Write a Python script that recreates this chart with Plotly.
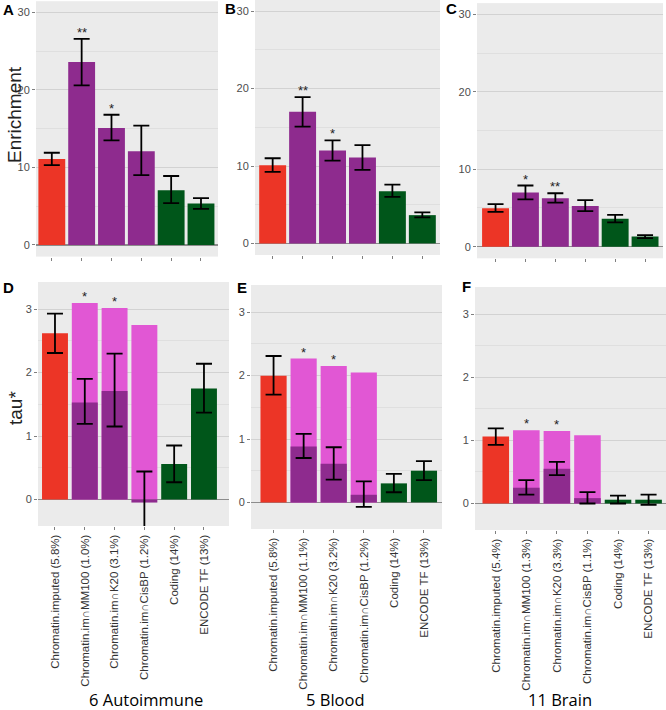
import plotly.graph_objects as go

# ---------------- data ----------------
cats_auto = ["Chromatin.imputed (5.8%)", "Chromatin.im∩MM100 (1.0%)", "Chromatin.im∩K20 (3.1%)",
             "Chromatin.im∩CisBP (1.2%)", "Coding (14%)", "ENCODE TF (13%)"]
cats_blood = ["Chromatin.imputed (5.8%)", "Chromatin.im∩MM100 (1.1%)", "Chromatin.im∩K20 (3.2%)",
              "Chromatin.im∩CisBP (1.2%)", "Coding (14%)", "ENCODE TF (13%)"]
cats_brain = ["Chromatin.imputed (5.4%)", "Chromatin.im∩MM100 (1.3%)", "Chromatin.im∩K20 (3.3%)",
              "Chromatin.im∩CisBP (1.1%)", "Coding (14%)", "ENCODE TF (13%)"]

group_titles = ["6 Autoimmune", "5 Blood", "11 Brain"]

# Enrichment (top row)
enr_auto = [11.1, 23.6, 15.1, 12.1, 7.05, 5.35]
enr_auto_hi = [11.9, 26.6, 16.8, 15.4, 8.9, 6.05]
enr_auto_lo = [10.3, 20.6, 13.5, 9.0, 5.4, 4.65]
enr_auto_stars = ["", "**", "*", "", "", ""]

enr_blood = [10.1, 17.0, 12.0, 11.1, 6.75, 3.65]
enr_blood_hi = [11.0, 18.9, 13.3, 12.7, 7.6, 4.0]
enr_blood_lo = [9.25, 15.1, 10.7, 9.5, 6.0, 3.35]
enr_blood_stars = ["", "**", "*", "", "", ""]

enr_brain = [4.95, 7.0, 6.25, 5.25, 3.6, 1.3]
enr_brain_hi = [5.5, 7.9, 6.9, 6.0, 4.1, 1.5]
enr_brain_lo = [4.5, 6.1, 5.7, 4.6, 3.15, 1.1]
enr_brain_stars = ["", "*", "**", "", "", ""]

# tau* (bottom row)
tau_auto = [2.62, 1.53, 1.71, -0.05, 0.56, 1.75]
tau_auto_hi = [2.93, 1.90, 2.30, 0.44, 0.85, 2.14]
tau_auto_lo = [2.31, 1.19, 1.15, -0.55, 0.27, 1.37]
tau_auto_outer = [3.10, 3.02, 2.75]

tau_blood = [2.0, 0.88, 0.61, 0.12, 0.30, 0.50]
tau_blood_hi = [2.31, 1.08, 0.87, 0.33, 0.45, 0.65]
tau_blood_lo = [1.70, 0.70, 0.36, -0.07, 0.16, 0.35]
tau_blood_outer = [2.27, 2.15, 2.05]

tau_brain = [1.06, 0.25, 0.55, 0.085, 0.06, 0.06]
tau_brain_hi = [1.19, 0.37, 0.66, 0.18, 0.125, 0.14]
tau_brain_lo = [0.93, 0.14, 0.45, 0.0, 0.0, -0.02]
tau_brain_outer = [1.16, 1.15, 1.08]

tau_stars = ["", "*", "*", "", "", ""]

# ---------------- style ----------------
RED = "#EC3526"
PURPLE = "#8E2B8E"
GREEN = "#00561A"
PINK = "#E157D4"
bar_colors = [RED, PURPLE, PURPLE, PURPLE, GREEN, GREEN]
BG = "#EBEBEB"
GRID = "#D2D2D2"
MINOR = "#DFDFDF"
TICKC = "#4D4D4D"
FONT = "Liberation Sans, Arial, sans-serif"

W, H = 666, 710
def fx(p):
    return p / W
def fy(p):
    return 1 - p / H

# panel geometry in pixels: (x0, x1, ytop, ybottom, xrange)
top_panels = [
    (36, 218, 1.2, 256.6, [-0.53, 5.57]),
    (255, 440, 0.0, 255.0, [-0.59, 5.59]),
    (477, 663, 3.1, 258.3, [-0.62, 5.6]),
]
bot_panels = [
    (38, 229, 282, 526, [-0.57, 5.84]),
    (251, 442, 285, 529, [-0.75, 5.6]),
    (475, 666, 287, 530, [-0.68, 5.57]),
]
top_yrange = [-1.5, 31.45]
bot_yrange = [-0.42, 3.43]

fig = go.Figure()
annotations = []

top_data = [
    (cats_auto, enr_auto, enr_auto_hi, enr_auto_lo, enr_auto_stars),
    (cats_blood, enr_blood, enr_blood_hi, enr_blood_lo, enr_blood_stars),
    (cats_brain, enr_brain, enr_brain_hi, enr_brain_lo, enr_brain_stars),
]
bot_data = [
    (cats_auto, tau_auto, tau_auto_hi, tau_auto_lo, tau_auto_outer),
    (cats_blood, tau_blood, tau_blood_hi, tau_blood_lo, tau_blood_outer),
    (cats_brain, tau_brain, tau_brain_hi, tau_brain_lo, tau_brain_outer),
]

layout_axes = {}

def axis_names(i):
    xn = "x" if i == 1 else f"x{i}"
    yn = "y" if i == 1 else f"y{i}"
    xk = "xaxis" if i == 1 else f"xaxis{i}"
    yk = "yaxis" if i == 1 else f"yaxis{i}"
    return xn, yn, xk, yk

idx = 0
# top row
for p, (geom, (cats, vals, hi, lo, stars)) in enumerate(zip(top_panels, top_data)):
    idx += 1
    xn, yn, xk, yk = axis_names(idx)
    x0, x1, yt, yb, xr = geom
    fig.add_trace(go.Bar(
        x=cats, y=vals, width=0.9, marker=dict(color=bar_colors, line=dict(width=0)),
        error_y=dict(type="data", symmetric=False,
                     array=[h - v for h, v in zip(hi, vals)],
                     arrayminus=[v - l for v, l in zip(vals, lo)],
                     color="black", thickness=1.8, width=8),
        xaxis=xn, yaxis=yn, showlegend=False, hoverinfo="skip"))
    for c, h, s in zip(cats, hi, stars):
        if s:
            annotations.append(dict(x=c, y=h, xref=xn, yref=yn, text=s, showarrow=False,
                                    yanchor="bottom", yshift=-3,
                                    font=dict(family=FONT, size=13, color="#222")))
    layout_axes[xk] = dict(domain=[fx(x0), fx(x1)], anchor=yn, type="category",
                           categoryorder="array", categoryarray=cats,
                           range=xr, showticklabels=False, ticks="outside", ticklen=3,
                           tickcolor="#7F7F7F", showgrid=False, zeroline=False,
                           showline=False, fixedrange=True)
    layout_axes[yk] = dict(domain=[fy(yb), fy(yt)], anchor=xn, range=top_yrange,
                           tickvals=[0, 10, 20, 30], ticks="outside", ticklen=3,
                           tickcolor="#7F7F7F", gridcolor=GRID, gridwidth=1,
                           minor=dict(tickvals=[5, 15, 25], showgrid=True, gridcolor=MINOR, gridwidth=1),
                           zeroline=True, zerolinecolor="#8C8C8C", zerolinewidth=1.5,
                           tickfont=dict(family=FONT, size=11, color=TICKC), showline=False,
                           fixedrange=True)

# bottom row
for p, (geom, (cats, vals, hi, lo, outer)) in enumerate(zip(bot_panels, bot_data)):
    idx += 1
    xn, yn, xk, yk = axis_names(idx)
    x0, x1, yt, yb, xr = geom
    fig.add_trace(go.Bar(
        x=cats[1:4], y=outer, width=0.87, marker=dict(color=PINK, line=dict(width=0)),
        xaxis=xn, yaxis=yn, showlegend=False, hoverinfo="skip"))
    fig.add_trace(go.Bar(
        x=cats, y=vals, width=0.87, marker=dict(color=bar_colors, line=dict(width=0)),
        error_y=dict(type="data", symmetric=False,
                     array=[h - v for h, v in zip(hi, vals)],
                     arrayminus=[v - l for v, l in zip(vals, lo)],
                     color="black", thickness=1.8, width=8),
        xaxis=xn, yaxis=yn, showlegend=False, hoverinfo="skip"))
    for c, o, s in zip(cats[1:4], outer, tau_stars[1:4]):
        if s:
            annotations.append(dict(x=c, y=o, xref=xn, yref=yn, text=s, showarrow=False,
                                    yanchor="bottom", yshift=-3,
                                    font=dict(family=FONT, size=13, color="#222")))
    layout_axes[xk] = dict(domain=[fx(x0), fx(x1)], anchor=yn, type="category",
                           categoryorder="array", categoryarray=cats,
                           range=xr, showticklabels=True, tickangle=-90, ticks="outside", ticklen=3,
                           tickcolor="#7F7F7F", showgrid=False, zeroline=False,
                           tickfont=dict(family=FONT, size=11.5, color="#333"),
                           showline=False, fixedrange=True)
    layout_axes[yk] = dict(domain=[fy(yb), fy(yt)], anchor=xn, range=bot_yrange,
                           tickvals=[0, 1, 2, 3], ticks="outside", ticklen=3,
                           tickcolor="#7F7F7F", gridcolor=GRID, gridwidth=1,
                           minor=dict(tickvals=[0.5, 1.5, 2.5], showgrid=True, gridcolor=MINOR, gridwidth=1),
                           zeroline=True, zerolinecolor="#8C8C8C", zerolinewidth=1.5,
                           tickfont=dict(family=FONT, size=11, color=TICKC), showline=False,
                           fixedrange=True)
    # group title
    annotations.append(dict(x=fx([146, 336, 560][p]), y=fy(699), xref="paper", yref="paper",
                            text=group_titles[p], showarrow=False, xanchor="center", yanchor="middle",
                            font=dict(family="Open Sans, Noto Sans, sans-serif", size=16.5, color="black")))

# panel letters
letters = ["A", "B", "C", "D", "E", "F"]
letter_pos = [(8, 10), (230, 9), (451, 9), (8, 287), (242, 287), (466, 286)]
for L, (lx, ly) in zip(letters, letter_pos):
    annotations.append(dict(x=fx(lx), y=fy(ly), xref="paper", yref="paper", text=f"<b>{L}</b>",
                            showarrow=False, xanchor="center", yanchor="middle",
                            font=dict(family=FONT, size=15, color="black")))

# y-axis titles
annotations.append(dict(x=fx(14), y=fy(115), xref="paper", yref="paper", text="Enrichment",
                        textangle=-90, showarrow=False, xanchor="center", yanchor="middle",
                        font=dict(family=FONT, size=19, color="#222")))
annotations.append(dict(x=fx(15), y=fy(408), xref="paper", yref="paper", text="tau*",
                        textangle=-90, showarrow=False, xanchor="center", yanchor="middle",
                        font=dict(family=FONT, size=19, color="#222")))

fig.update_layout(
    width=W, height=H, margin=dict(l=0, r=0, t=0, b=0),
    paper_bgcolor="white", plot_bgcolor=BG, barmode="overlay",
    annotations=annotations, showlegend=False,
    **layout_axes,
)

fig.write_html("out.html",
               config={"displayModeBar": False, "staticPlot": True},
               post_script="document.body.style.margin='0';document.body.style.overflow='hidden';"
                           "document.documentElement.style.overflow='hidden';")
